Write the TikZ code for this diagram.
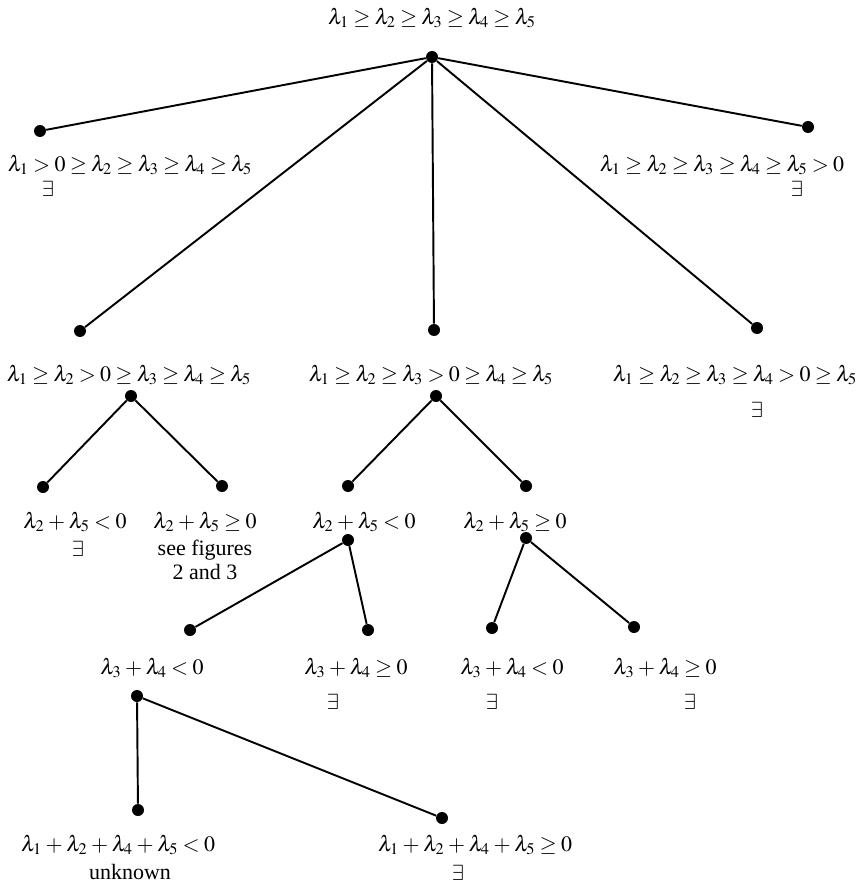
\documentclass[tikz,border=0pt]{standalone}
\usepackage{fontspec}
\usepackage{mathptmx}
\setmainfont{Liberation Serif}
\thickmuskip=3.5mu plus 2mu
\medmuskip=3mu plus 1mu minus 2mu
\begin{document}
\begin{tikzpicture}[
  x=0.02cm, y=-0.02cm,
  font=\fontsize{12.5}{14.5}\selectfont,
  vertex/.style={circle, fill, inner sep=0pt, minimum size=2.4mm},
  cond/.style={inner sep=1pt},
  edge/.style={line width=1.1pt}
]
\useasboundingbox (0,0) rectangle (859,888);

% vertices
\node[vertex] (root) at (432,57) {};
\node[vertex] (a) at (40,131) {};
\node[vertex] (e) at (808,127) {};
\node[vertex] (b) at (80,331) {};
\node[vertex] (c) at (434,330) {};
\node[vertex] (d) at (757,328) {};
\node[vertex] (bt) at (131,396) {};
\node[vertex] (bl) at (43,487) {};
\node[vertex] (br) at (222,486) {};
\node[vertex] (ct) at (436,396) {};
\node[vertex] (cl) at (348,486) {};
\node[vertex] (cr) at (526,486) {};
\node[vertex] (clt) at (348,540) {};
\node[vertex] (cll) at (190,630) {};
\node[vertex] (clr) at (368,630) {};
\node[vertex] (crt) at (526,538) {};
\node[vertex] (crl) at (492,628) {};
\node[vertex] (crr) at (634,627) {};
\node[vertex] (cllt) at (137,696) {};
\node[vertex] (clll) at (138,810) {};
\node[vertex] (cllr) at (442,818) {};

% connectors
\foreach \u/\v in {root/a, root/b, root/c, root/d, root/e, bt/bl, bt/br, ct/cl, ct/cr,
  clt/cll, clt/clr, crt/crl, crt/crr, cllt/clll, cllt/cllr}
  \draw[edge] (\u) -- (\v);

% conditions
\node[cond] (root-l) at (432,18) {$\lambda_1\ge\lambda_2\ge\lambda_3\ge\lambda_4\ge\lambda_5$};
\node[cond] (a-l) at (130,165) {$\lambda_1>0\ge\lambda_2\ge\lambda_3\ge\lambda_4\ge\lambda_5$};
\node[cond] (a-x) at (48,189) {$\exists$};
\node[cond] (e-l) at (722,165) {$\lambda_1\ge\lambda_2\ge\lambda_3\ge\lambda_4\ge\lambda_5>0$};
\node[cond] (e-x) at (797,189) {$\exists$};
\node[cond] (b-l) at (129,375) {$\lambda_1\ge\lambda_2>0\ge\lambda_3\ge\lambda_4\ge\lambda_5$};
\node[cond] (c-l) at (431,375) {$\lambda_1\ge\lambda_2\ge\lambda_3>0\ge\lambda_4\ge\lambda_5$};
\node[cond] (d-l) at (735,375) {$\lambda_1\ge\lambda_2\ge\lambda_3\ge\lambda_4>0\ge\lambda_5$};
\node[cond] (d-x) at (757,410) {$\exists$};
\node[cond] (bl-l) at (75,522) {$\lambda_2+\lambda_5<0$};
\node[cond] (bl-x) at (78,549) {$\exists$};
\node[cond] (br-l) at (205,522) {$\lambda_2+\lambda_5\ge0$};
\node[cond, align=center] (br-x) at (205,560) {see figures\\[-1pt]2 and 3};
\node[cond] (cl-l) at (364,522) {$\lambda_2+\lambda_5<0$};
\node[cond] (cr-l) at (515,522) {$\lambda_2+\lambda_5\ge0$};
\node[cond] (cll-l) at (152,668) {$\lambda_3+\lambda_4<0$};
\node[cond] (clr-l) at (356,668) {$\lambda_3+\lambda_4\ge0$};
\node[cond] (clr-x) at (333,702) {$\exists$};
\node[cond] (crl-l) at (512,668) {$\lambda_3+\lambda_4<0$};
\node[cond] (crl-x) at (492,702) {$\exists$};
\node[cond] (crr-l) at (665,668) {$\lambda_3+\lambda_4\ge0$};
\node[cond] (crr-x) at (690,702) {$\exists$};
\node[cond] (clll-l) at (118,845) {$\lambda_1+\lambda_2+\lambda_4+\lambda_5<0$};
\node[cond] (clll-x) at (130,872) {unknown};
\node[cond] (cllr-l) at (475,845) {$\lambda_1+\lambda_2+\lambda_4+\lambda_5\ge0$};
\node[cond] (cllr-x) at (458,873) {$\exists$};
\end{tikzpicture}
\end{document}
